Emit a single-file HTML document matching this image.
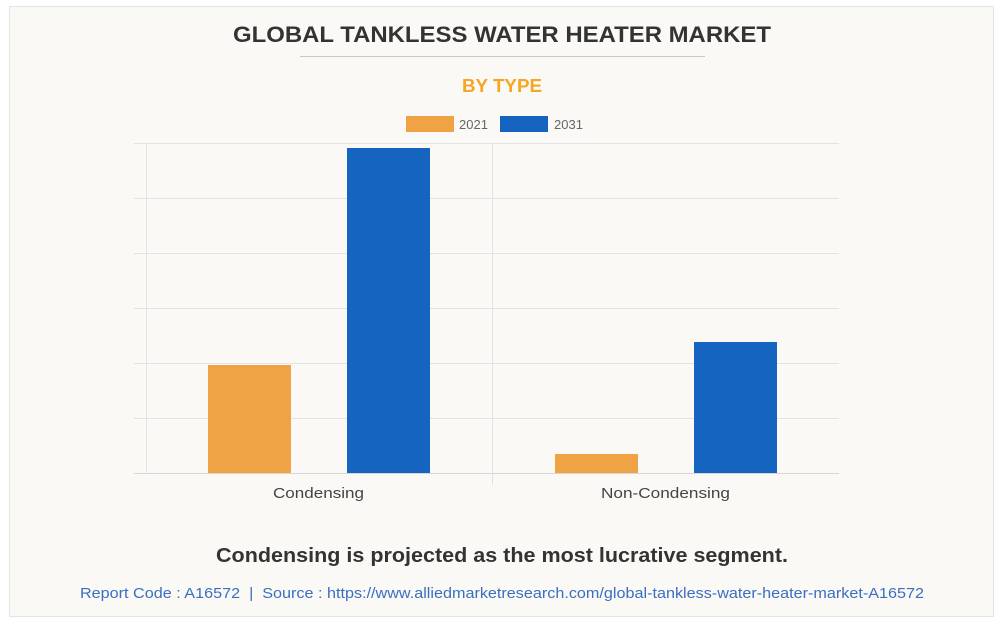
<!DOCTYPE html>
<html><head><meta charset="utf-8"><style>
body{margin:0;width:1001px;height:619px;background:#fff;font-family:"Liberation Sans",Arial,sans-serif;overflow:hidden}
.p{position:absolute;left:9px;top:6px;width:983px;height:609px;background:#faf9f5;border:1px solid #e4e4e4}
</style></head><body>
<div class="p"></div>
<svg width="1001" height="619" style="position:absolute;left:0;top:0" font-family="Liberation Sans, Arial, sans-serif">
<text x="233" y="42" textLength="538" lengthAdjust="spacingAndGlyphs" font-size="22" font-weight="bold" fill="#333">GLOBAL TANKLESS WATER HEATER MARKET</text>
<line x1="300" y1="56.5" x2="705" y2="56.5" stroke="#c8c8c8" stroke-width="1"/>
<text x="462" y="92" textLength="80" lengthAdjust="spacingAndGlyphs" font-size="18" font-weight="bold" fill="#f5a623">BY TYPE</text>
<rect x="406" y="116" width="48" height="16" fill="#f0a345"/>
<text x="459" y="129" font-size="13" fill="#666">2021</text>
<rect x="500" y="116" width="48" height="16" fill="#1565c0"/>
<text x="554" y="129" font-size="13" fill="#666">2031</text>
<g stroke="#e3e3e3" stroke-width="1">
<line x1="134" y1="143.5" x2="839" y2="143.5"/>
<line x1="134" y1="198.5" x2="839" y2="198.5"/>
<line x1="134" y1="253.5" x2="839" y2="253.5"/>
<line x1="134" y1="308.5" x2="839" y2="308.5"/>
<line x1="134" y1="363.5" x2="839" y2="363.5"/>
<line x1="134" y1="418.5" x2="839" y2="418.5"/>
<line x1="146.5" y1="143" x2="146.5" y2="474"/>
<line x1="492.5" y1="143" x2="492.5" y2="485"/>
</g>
<line x1="134" y1="473.5" x2="839" y2="473.5" stroke="#d6d6d6"/>
<rect x="208" y="365" width="83" height="108" fill="#f0a345"/>
<rect x="347" y="148" width="83" height="325" fill="#1565c0"/>
<rect x="555" y="454" width="83" height="19" fill="#f0a345"/>
<rect x="694" y="342" width="83" height="131" fill="#1565c0"/>
<text x="273" y="498" textLength="91" lengthAdjust="spacingAndGlyphs" font-size="15" fill="#444">Condensing</text>
<text x="601" y="498" textLength="129" lengthAdjust="spacingAndGlyphs" font-size="15" fill="#444">Non-Condensing</text>
<text x="216" y="562" textLength="572" lengthAdjust="spacingAndGlyphs" font-size="20" font-weight="bold" fill="#333">Condensing is projected as the most lucrative segment.</text>
<text x="80" y="598" textLength="844" lengthAdjust="spacingAndGlyphs" font-size="15" fill="#3a6fc0" xml:space="preserve">Report Code : A16572  |  Source : https://www.alliedmarketresearch.com/global-tankless-water-heater-market-A16572</text>
</svg>
</body></html>
